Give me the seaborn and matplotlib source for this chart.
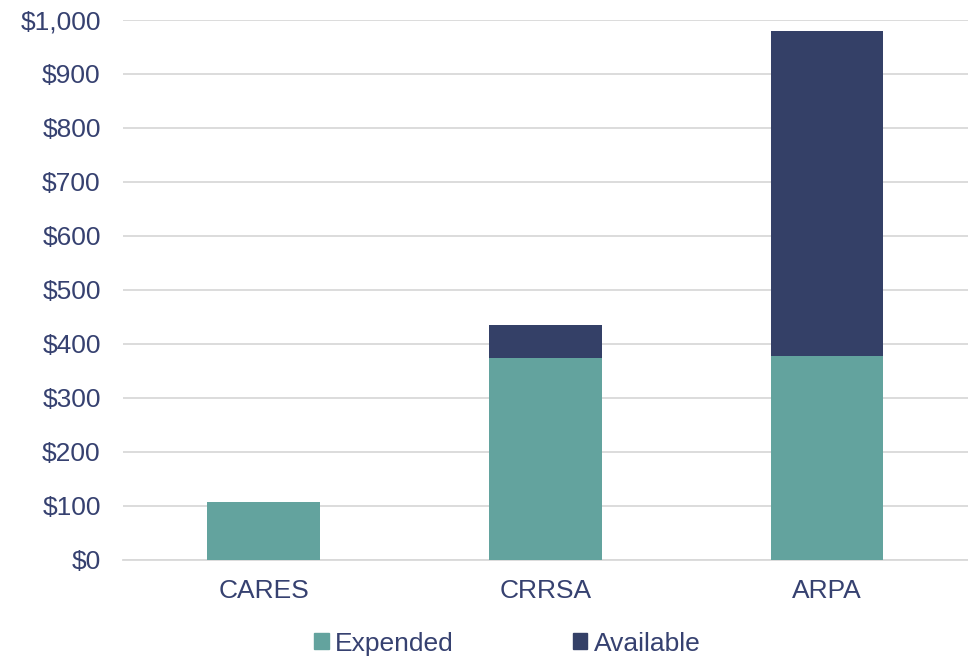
import matplotlib
matplotlib.use("Agg")
import matplotlib.pyplot as plt
import matplotlib.ticker as mticker
from matplotlib.patches import Patch
import pandas as pd
import seaborn as sns

# data (millions of dollars)
programs = ["CARES", "CRRSA", "ARPA"]
expended = [107, 374, 377]
available = [0, 61, 603]

teal = "#63A39E"
navy = "#344067"
text_col = "#364170"

sns.set_theme(style="white")
plt.rcParams['font.family'] = ['Liberation Sans', 'DejaVu Sans']

df = pd.DataFrame({'program': programs, 'expended': expended, 'available': available})
df['total'] = df['expended'] + df['available']

fig = plt.figure(figsize=(9.68, 6.58), dpi=100)
ax = fig.add_axes([0.127, 0.149, 0.873, 0.821])

# stacked: total in navy, expended drawn over it in teal
sns.barplot(data=df, x='program', y='total', color=navy, width=0.4,
            saturation=1, linewidth=0, ax=ax, zorder=2)
sns.barplot(data=df, x='program', y='expended', color=teal, width=0.4,
            saturation=1, linewidth=0, ax=ax, zorder=3)

ax.set_ylim(0, 1000)
ax.set_xlim(-0.5, 2.5)
ax.yaxis.set_major_locator(mticker.MultipleLocator(100))
ax.yaxis.set_major_formatter(mticker.FuncFormatter(lambda v, p: f"${v:,.0f}"))
ax.grid(axis='y', color='#D9D9D9', linewidth=1.3, zorder=0)
ax.set_axisbelow(True)

for s in ['top', 'right', 'left']:
    ax.spines[s].set_visible(False)
ax.spines['bottom'].set_color('#D9D9D9')
ax.spines['bottom'].set_linewidth(1.3)

ax.tick_params(axis='both', length=0, labelsize=19, labelcolor=text_col)
ax.tick_params(axis='x', pad=14)
ax.tick_params(axis='y', pad=16)
ax.set_xlabel('')
ax.set_ylabel('')

handles = [Patch(color=teal, label='Expended'), Patch(color=navy, label='Available')]
fig.legend(handles=handles, loc='center', bbox_to_anchor=(0.524, 0.022), ncol=2,
           frameon=False, fontsize=19, labelcolor=text_col, handlelength=0.55,
           handleheight=0.55, handletextpad=0.25, columnspacing=4.5)

fig.savefig('out.png', dpi=100)
